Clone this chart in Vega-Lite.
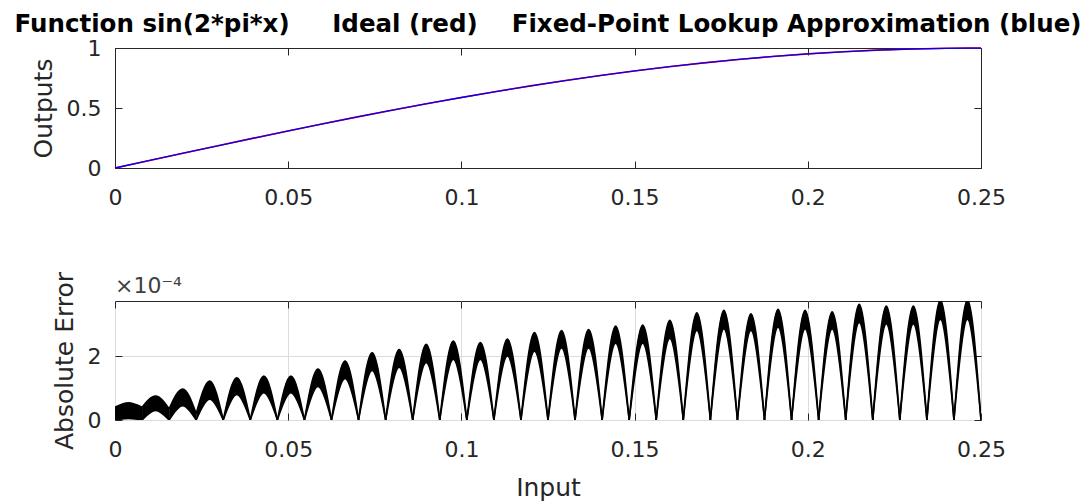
{
  "$schema": "https://vega.github.io/schema/vega-lite/v6.json",
  "background": "white",
  "padding": {"left": 14, "top": 11, "right": 0, "bottom": 0},
  "spacing": 133,
  "bounds": "flush",
  "config": {
    "font": "DejaVu Sans",
    "view": {"stroke": "#262626", "strokeWidth": 1},
    "axis": {
      "domain": false,
      "tickColor": "#262626",
      "tickSize": -7,
      "tickWidth": 1,
      "labelColor": "#262626",
      "labelFont": "DejaVu Sans",
      "labelFontSize": 22,
      "labelPadding": 21,
      "titleColor": "#262626",
      "titleFont": "DejaVu Sans",
      "titleFontSize": 25,
      "titleFontWeight": "normal",
      "titlePadding": 10,
      "gridColor": "#dcdcdc",
      "gridWidth": 1,
      "labelFlush": false,
      "labelOverlap": false
    }
  },
  "vconcat": [
    {
      "width": 866,
      "height": 120,
      "title": {
        "text": "Function sin(2*pi*x)\u00a0\u00a0\u00a0\u00a0\u00a0Ideal (red)\u00a0\u00a0\u00a0\u00a0Fixed-Point Lookup Approximation (blue)",
        "font": "DejaVu Sans",
        "fontSize": 24.5,
        "fontWeight": "bold",
        "color": "#000000",
        "anchor": "middle",
        "frame": "group",
        "baseline": "alphabetic",
        "offset": -19
      },
      "data": {
        "values": [
          {"x": 0, "ideal": 0, "approx": 0},
          {"x": 0.01, "ideal": 0.0628, "approx": 0.0627},
          {"x": 0.02, "ideal": 0.1253, "approx": 0.1252},
          {"x": 0.03, "ideal": 0.1874, "approx": 0.1873},
          {"x": 0.04, "ideal": 0.2487, "approx": 0.2486},
          {"x": 0.05, "ideal": 0.309, "approx": 0.3089},
          {"x": 0.06, "ideal": 0.3681, "approx": 0.368},
          {"x": 0.07, "ideal": 0.4258, "approx": 0.4256},
          {"x": 0.08, "ideal": 0.4818, "approx": 0.4816},
          {"x": 0.09, "ideal": 0.5358, "approx": 0.5356},
          {"x": 0.1, "ideal": 0.5878, "approx": 0.5876},
          {"x": 0.11, "ideal": 0.6374, "approx": 0.6372},
          {"x": 0.12, "ideal": 0.6845, "approx": 0.6843},
          {"x": 0.13, "ideal": 0.729, "approx": 0.7288},
          {"x": 0.14, "ideal": 0.7705, "approx": 0.7703},
          {"x": 0.15, "ideal": 0.809, "approx": 0.8088},
          {"x": 0.16, "ideal": 0.8443, "approx": 0.8441},
          {"x": 0.17, "ideal": 0.8763, "approx": 0.876},
          {"x": 0.18, "ideal": 0.9048, "approx": 0.9045},
          {"x": 0.19, "ideal": 0.9298, "approx": 0.9295},
          {"x": 0.2, "ideal": 0.9511, "approx": 0.9508},
          {"x": 0.21, "ideal": 0.9686, "approx": 0.9683},
          {"x": 0.22, "ideal": 0.9823, "approx": 0.982},
          {"x": 0.23, "ideal": 0.9921, "approx": 0.9918},
          {"x": 0.24, "ideal": 0.998, "approx": 0.9977},
          {"x": 0.25, "ideal": 1, "approx": 0.9997}
        ]
      },
      "layer": [
        {
          "mark": {"type": "line", "color": "#ff0000", "strokeWidth": 1.6, "interpolate": "monotone"},
          "encoding": {
            "x": {
              "field": "x", "type": "quantitative",
              "scale": {"domain": [0, 0.25], "nice": false, "zero": false},
              "axis": {"values": [0, 0.05, 0.1, 0.15, 0.2, 0.25], "format": "~g", "title": null, "grid": false, "labelPadding": 26}
            },
            "y": {
              "field": "ideal", "type": "quantitative",
              "scale": {"domain": [0, 1], "nice": false},
              "axis": {"values": [0, 0.5, 1], "format": "~g", "title": "Outputs", "grid": false}
            }
          }
        },
        {
          "mark": {"type": "line", "color": "#0000ff", "strokeWidth": 1.3, "interpolate": "monotone"},
          "encoding": {
            "x": {
              "field": "x", "type": "quantitative",
              "axis": {"orient": "top", "values": [0, 0.05, 0.1, 0.15, 0.2, 0.25], "labels": false, "title": null, "grid": false}
            },
            "y": {
              "field": "approx", "type": "quantitative",
              "axis": {"orient": "right", "values": [0, 0.5, 1], "labels": false, "title": null, "grid": false}
            }
          }
        }
      ],
      "resolve": {"axis": {"x": "independent", "y": "independent"}}
    },
    {
      "width": 866,
      "height": 119,
      "title": {
        "text": "×10⁻⁴",
        "font": "DejaVu Sans",
        "fontSize": 22,
        "fontWeight": "normal",
        "color": "#404040",
        "anchor": "start",
        "frame": "group",
        "baseline": "alphabetic",
        "offset": -44
      },
      "data": {
        "values": [
          {"k": 0, "x": 0, "hi": 0.4, "lo": 0},
          {"k": 0, "x": 0.00391, "hi": 0.54, "lo": 0.05},
          {"k": 0, "x": 0.00781, "hi": 0.4, "lo": 0},
          {"k": 1, "x": 0.00781, "hi": 0.4, "lo": 0},
          {"k": 1, "x": 0.01172, "hi": 0.75, "lo": 0.3},
          {"k": 1, "x": 0.01563, "hi": 0.35, "lo": 0},
          {"k": 2, "x": 0.01563, "hi": 0.35, "lo": 0},
          {"k": 2, "x": 0.01953, "hi": 0.97, "lo": 0.45},
          {"k": 2, "x": 0.02344, "hi": 0.2, "lo": 0},
          {"k": 3, "x": 0.02344, "hi": 0.2, "lo": 0},
          {"k": 3, "x": 0.02734, "hi": 1.22, "lo": 0.65},
          {"k": 3, "x": 0.03125, "hi": 0, "lo": 0},
          {"k": 4, "x": 0.03125, "hi": 0, "lo": 0},
          {"k": 4, "x": 0.03516, "hi": 1.32, "lo": 0.8},
          {"k": 4, "x": 0.03906, "hi": 0, "lo": 0},
          {"k": 5, "x": 0.03906, "hi": 0, "lo": 0},
          {"k": 5, "x": 0.04297, "hi": 1.37, "lo": 0.85},
          {"k": 5, "x": 0.04688, "hi": 0, "lo": 0},
          {"k": 6, "x": 0.04688, "hi": 0, "lo": 0},
          {"k": 6, "x": 0.05078, "hi": 1.37, "lo": 0.85},
          {"k": 6, "x": 0.05469, "hi": 0, "lo": 0},
          {"k": 7, "x": 0.05469, "hi": 0, "lo": 0},
          {"k": 7, "x": 0.05859, "hi": 1.59, "lo": 1.05},
          {"k": 7, "x": 0.0625, "hi": 0, "lo": 0},
          {"k": 8, "x": 0.0625, "hi": 0, "lo": 0},
          {"k": 8, "x": 0.06641, "hi": 1.84, "lo": 1.3},
          {"k": 8, "x": 0.07031, "hi": 0, "lo": 0},
          {"k": 9, "x": 0.07031, "hi": 0, "lo": 0},
          {"k": 9, "x": 0.07422, "hi": 2.1, "lo": 1.55},
          {"k": 9, "x": 0.07813, "hi": 0, "lo": 0},
          {"k": 10, "x": 0.07813, "hi": 0, "lo": 0},
          {"k": 10, "x": 0.08203, "hi": 2.2, "lo": 1.65},
          {"k": 10, "x": 0.08594, "hi": 0, "lo": 0},
          {"k": 11, "x": 0.08594, "hi": 0, "lo": 0},
          {"k": 11, "x": 0.08984, "hi": 2.37, "lo": 1.8},
          {"k": 11, "x": 0.09375, "hi": 0, "lo": 0},
          {"k": 12, "x": 0.09375, "hi": 0, "lo": 0},
          {"k": 12, "x": 0.09766, "hi": 2.47, "lo": 1.9},
          {"k": 12, "x": 0.10156, "hi": 0, "lo": 0},
          {"k": 13, "x": 0.10156, "hi": 0, "lo": 0},
          {"k": 13, "x": 0.10547, "hi": 2.42, "lo": 1.9},
          {"k": 13, "x": 0.10938, "hi": 0, "lo": 0},
          {"k": 14, "x": 0.10938, "hi": 0, "lo": 0},
          {"k": 14, "x": 0.11328, "hi": 2.53, "lo": 2.0},
          {"k": 14, "x": 0.11719, "hi": 0, "lo": 0},
          {"k": 15, "x": 0.11719, "hi": 0, "lo": 0},
          {"k": 15, "x": 0.12109, "hi": 2.73, "lo": 2.15},
          {"k": 15, "x": 0.125, "hi": 0, "lo": 0},
          {"k": 16, "x": 0.125, "hi": 0, "lo": 0},
          {"k": 16, "x": 0.12891, "hi": 2.8, "lo": 2.25},
          {"k": 16, "x": 0.13281, "hi": 0, "lo": 0},
          {"k": 17, "x": 0.13281, "hi": 0, "lo": 0},
          {"k": 17, "x": 0.13672, "hi": 2.83, "lo": 2.25},
          {"k": 17, "x": 0.14063, "hi": 0, "lo": 0},
          {"k": 18, "x": 0.14063, "hi": 0, "lo": 0},
          {"k": 18, "x": 0.14453, "hi": 2.94, "lo": 2.4},
          {"k": 18, "x": 0.14844, "hi": 0, "lo": 0},
          {"k": 19, "x": 0.14844, "hi": 0, "lo": 0},
          {"k": 19, "x": 0.15234, "hi": 2.97, "lo": 2.4},
          {"k": 19, "x": 0.15625, "hi": 0, "lo": 0},
          {"k": 20, "x": 0.15625, "hi": 0, "lo": 0},
          {"k": 20, "x": 0.16016, "hi": 3.12, "lo": 2.55},
          {"k": 20, "x": 0.16406, "hi": 0, "lo": 0},
          {"k": 21, "x": 0.16406, "hi": 0, "lo": 0},
          {"k": 21, "x": 0.16797, "hi": 3.35, "lo": 2.8},
          {"k": 21, "x": 0.17188, "hi": 0, "lo": 0},
          {"k": 22, "x": 0.17188, "hi": 0, "lo": 0},
          {"k": 22, "x": 0.17578, "hi": 3.43, "lo": 2.85},
          {"k": 22, "x": 0.17969, "hi": 0, "lo": 0},
          {"k": 23, "x": 0.17969, "hi": 0, "lo": 0},
          {"k": 23, "x": 0.18359, "hi": 3.32, "lo": 2.8},
          {"k": 23, "x": 0.1875, "hi": 0, "lo": 0},
          {"k": 24, "x": 0.1875, "hi": 0, "lo": 0},
          {"k": 24, "x": 0.19141, "hi": 3.46, "lo": 2.9},
          {"k": 24, "x": 0.19531, "hi": 0, "lo": 0},
          {"k": 25, "x": 0.19531, "hi": 0, "lo": 0},
          {"k": 25, "x": 0.19922, "hi": 3.43, "lo": 2.85},
          {"k": 25, "x": 0.20313, "hi": 0, "lo": 0},
          {"k": 26, "x": 0.20313, "hi": 0, "lo": 0},
          {"k": 26, "x": 0.20703, "hi": 3.38, "lo": 2.85},
          {"k": 26, "x": 0.21094, "hi": 0, "lo": 0},
          {"k": 27, "x": 0.21094, "hi": 0, "lo": 0},
          {"k": 27, "x": 0.21484, "hi": 3.62, "lo": 3.05},
          {"k": 27, "x": 0.21875, "hi": 0, "lo": 0},
          {"k": 28, "x": 0.21875, "hi": 0, "lo": 0},
          {"k": 28, "x": 0.22266, "hi": 3.56, "lo": 3.0},
          {"k": 28, "x": 0.22656, "hi": 0, "lo": 0},
          {"k": 29, "x": 0.22656, "hi": 0, "lo": 0},
          {"k": 29, "x": 0.23047, "hi": 3.56, "lo": 3.0},
          {"k": 29, "x": 0.23438, "hi": 0, "lo": 0},
          {"k": 30, "x": 0.23438, "hi": 0, "lo": 0},
          {"k": 30, "x": 0.23828, "hi": 3.75, "lo": 3.15},
          {"k": 30, "x": 0.24219, "hi": 0, "lo": 0},
          {"k": 31, "x": 0.24219, "hi": 0, "lo": 0},
          {"k": 31, "x": 0.24609, "hi": 3.75, "lo": 3.15},
          {"k": 31, "x": 0.25, "hi": 0, "lo": 0}
        ]
      },
      "layer": [
        {
          "mark": {"type": "area", "color": "#000000", "interpolate": "monotone", "clip": true},
          "encoding": {
            "x": {
              "field": "x", "type": "quantitative",
              "scale": {"domain": [0, 0.25], "nice": false, "zero": false},
              "axis": {"values": [0, 0.05, 0.1, 0.15, 0.2, 0.25], "format": "~g", "title": "Input", "grid": true, "labelPadding": 26, "titlePadding": 15}
            },
            "y": {
              "field": "hi", "type": "quantitative",
              "scale": {"domain": [0, 3.72], "nice": false},
              "axis": {"values": [0, 2], "format": "~g", "title": "Absolute Error", "grid": true}
            },
            "y2": {"field": "lo"},
            "detail": {"field": "k", "type": "nominal"}
          }
        },
        {
          "mark": {"type": "line", "color": "#000000", "strokeWidth": 1.6, "interpolate": "monotone", "clip": true},
          "encoding": {
            "x": {"field": "x", "type": "quantitative", "axis": null},
            "y": {"field": "hi", "type": "quantitative", "axis": null},
            "detail": {"field": "k", "type": "nominal"}
          }
        },
        {
          "mark": {"type": "line", "color": "#000000", "strokeWidth": 1.6, "interpolate": "monotone", "clip": true},
          "encoding": {
            "x": {
              "field": "x", "type": "quantitative",
              "axis": {"orient": "top", "values": [0, 0.05, 0.1, 0.15, 0.2, 0.25], "labels": false, "title": null, "grid": false}
            },
            "y": {
              "field": "lo", "type": "quantitative",
              "axis": {"orient": "right", "values": [0, 2], "labels": false, "title": null, "grid": false}
            },
            "detail": {"field": "k", "type": "nominal"}
          }
        }
      ],
      "resolve": {"axis": {"x": "independent", "y": "independent"}}
    }
  ]
}
